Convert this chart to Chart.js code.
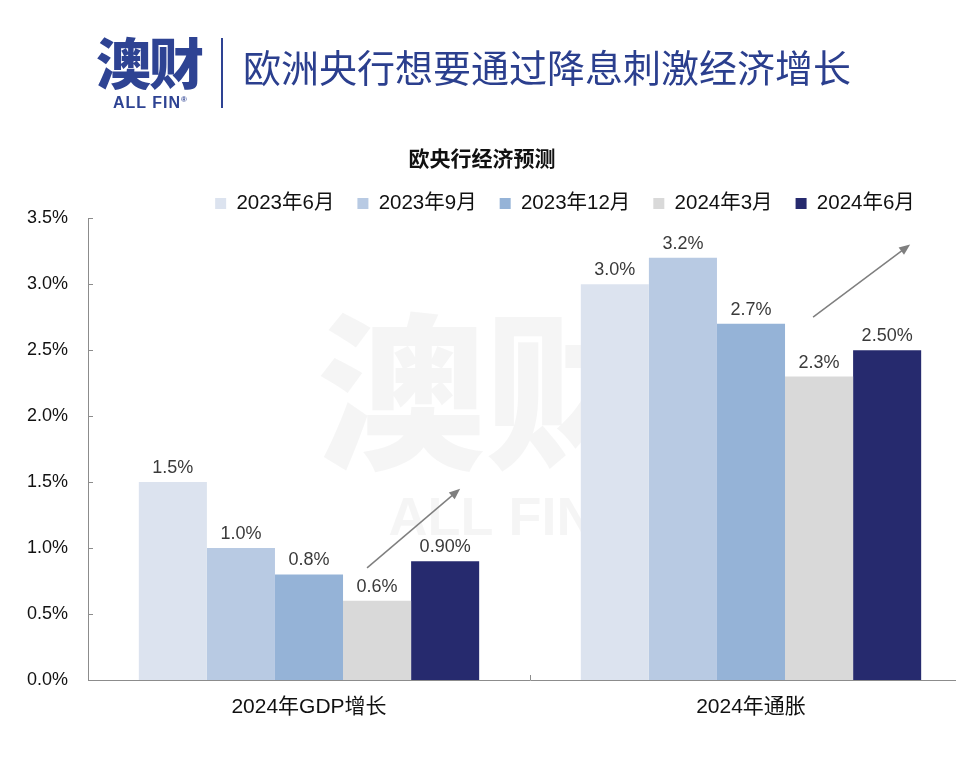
<!DOCTYPE html>
<html>
<head>
<meta charset="utf-8">
<script src="https://cdn.jsdelivr.net/npm/chart.js@4.4.0/dist/chart.umd.min.js"></script>
<style>
  html, body { margin: 0; padding: 0; background: #fff; overflow: hidden; }
  #wrap { position: relative; width: 956px; height: 776px; overflow: hidden; }
  #chart { position: absolute; left: 0; top: 0; }
  .logo { position: absolute; left: 96px; top: 20px; font: 900 55px "Noto Sans CJK SC"; color: #2e4393; letter-spacing: -2px; }
  .logo-en { position: absolute; left: 113px; top: 94px; font: bold 16px "Liberation Sans", sans-serif; color: #2e4393; letter-spacing: 1px; }
  .logo-en sup { font-size: 8px; }
  .vline { position: absolute; left: 221px; top: 38px; width: 2px; height: 70px; background: #2e4393; }
  .headline { position: absolute; left: 243px; top: 38px; font: 400 38px "Noto Sans CJK SC"; color: #2b3f8e; }
</style>
</head>
<body>
<div id="wrap">
  <canvas id="chart" width="990" height="776"></canvas>
  <div class="logo">澳财</div>
  <div class="logo-en">ALL FIN<sup>®</sup></div>
  <div class="vline"></div>
  <div class="headline">欧洲央行想要通过降息刺激经济增长</div>
</div>
<script>
const categories = ['2024年GDP增长', '2024年通胀'];
const seriesNames = ['2023年6月', '2023年9月', '2023年12月', '2024年3月', '2024年6月'];
const jun2023 = [1.5, 3.0];
const sep2023 = [1.0, 3.2];
const dec2023 = [0.8, 2.7];
const mar2024 = [0.6, 2.3];
const jun2024 = [0.9, 2.5];
const labelDigits = [1, 1, 1, 1, 2];
const colors = ['#dce3ef', '#b8cae3', '#95b3d7', '#d9d9d9', '#262a6e'];
const yTicks = [0, 0.5, 1.0, 1.5, 2.0, 2.5, 3.0, 3.5];

const latin = '"Liberation Sans", "Noto Sans CJK SC", sans-serif';
const allSeries = [jun2023, sep2023, dec2023, mar2024, jun2024];

const watermark = {
  id: 'watermark',
  beforeDatasetsDraw(chart) {
    const ctx = chart.ctx;
    ctx.save();
    ctx.fillStyle = 'rgba(190,190,190,0.16)';
    ctx.textAlign = 'center';
    ctx.textBaseline = 'middle';
    ctx.font = '900 168px "Noto Sans CJK SC"';
    ctx.fillText('澳财', 485, 392);
    ctx.font = 'bold 54px "Liberation Sans"';
    ctx.fillText('ALL FIN', 492, 520);
    ctx.font = 'bold 20px "Liberation Sans"';
    ctx.fillText('®', 640, 505);
    ctx.restore();
  }
};

// the original is cropped on the right: title and legend keep their own spots
const boxShift = {
  id: 'boxShift',
  beforeInit(chart) {
    const lg = chart.legend;
    const fit = lg.fit;
    lg.fit = function () { fit.call(this); this.height = 48; };
  },
  afterLayout(chart) {
    chart.legend.left = 168;
    chart.legend.right = 962;
    chart.titleBlock.left = 0;
    chart.titleBlock.right = 964;
  }
};

const extras = {
  id: 'extras',
  afterDatasetsDraw(chart) {
    const ctx = chart.ctx;
    const x = chart.scales.x, y = chart.scales.y;
    ctx.save();
    // value labels
    ctx.font = '18px ' + latin;
    ctx.fillStyle = '#3a3a3a';
    ctx.textAlign = 'center';
    ctx.textBaseline = 'bottom';
    chart.data.datasets.forEach((ds, i) => {
      chart.getDatasetMeta(i).data.forEach((bar, j) => {
        ctx.fillText(ds.data[j].toFixed(labelDigits[i]) + '%', bar.x, bar.y - 5);
      });
    });
    // inside tick marks
    ctx.strokeStyle = '#8c8c8c';
    ctx.lineWidth = 1;
    ctx.beginPath();
    yTicks.forEach(v => {
      const py = Math.round(y.getPixelForValue(v)) + 0.5;
      ctx.moveTo(x.left, py); ctx.lineTo(x.left + 5, py);
    });
    const mid = Math.round((x.getPixelForValue(0) + x.getPixelForValue(1)) / 2) + 0.5;
    ctx.moveTo(mid, y.bottom); ctx.lineTo(mid, y.bottom - 5);
    ctx.stroke();
    // trend arrows from gray bar to navy bar
    const gray = chart.getDatasetMeta(3).data;
    const navy = chart.getDatasetMeta(4).data;
    const arrowFrom = [[-10, 0.85], [-6, 2.75]];
    const arrowTo = [[15, 1.45], [23, 3.3]];
    ctx.strokeStyle = '#7f7f7f';
    ctx.fillStyle = '#7f7f7f';
    ctx.lineWidth = 1.5;
    for (let j = 0; j < 2; j++) {
      const x0 = gray[j].x + arrowFrom[j][0], y0 = y.getPixelForValue(arrowFrom[j][1]);
      const x1 = navy[j].x + arrowTo[j][0], y1 = y.getPixelForValue(arrowTo[j][1]);
      const a = Math.atan2(y1 - y0, x1 - x0);
      ctx.beginPath();
      ctx.moveTo(x0, y0); ctx.lineTo(x1 - 6 * Math.cos(a), y1 - 6 * Math.sin(a));
      ctx.stroke();
      ctx.beginPath();
      ctx.moveTo(x1, y1);
      ctx.lineTo(x1 - 11 * Math.cos(a) + 4.5 * Math.sin(a), y1 - 11 * Math.sin(a) - 4.5 * Math.cos(a));
      ctx.lineTo(x1 - 11 * Math.cos(a) - 4.5 * Math.sin(a), y1 - 11 * Math.sin(a) + 4.5 * Math.cos(a));
      ctx.closePath();
      ctx.fill();
    }
    ctx.restore();
  }
};

new Chart(document.getElementById('chart'), {
  type: 'bar',
  data: {
    labels: categories,
    datasets: seriesNames.map((name, i) => ({
      label: name,
      data: allSeries[i],
      backgroundColor: colors[i],
      borderWidth: 0,
      categoryPercentage: 0.77,
      barPercentage: 1.0
    }))
  },
  options: {
    responsive: false,
    animation: false,
    layout: { padding: { top: 145, left: 18, right: 18, bottom: 0 } },
    plugins: {
      title: {
        display: true,
        text: '欧央行经济预测',
        color: '#111',
        font: { family: '"Noto Sans CJK SC"', size: 21, weight: 'bold' },
        padding: { top: 0, bottom: 0 }
      },
      legend: {
        labels: {
          color: '#111',
          font: { family: latin, size: 20.5 },
          boxWidth: 11,
          boxHeight: 11,
          padding: 23
        }
      },
      tooltip: { enabled: false }
    },
    scales: {
      x: {
        grid: { display: false, drawTicks: false },
        border: { display: true, color: '#8c8c8c', width: 1 },
        ticks: { color: '#111', font: { family: latin, size: 21 }, padding: 15 },
        afterFit(s) { s.height = 96; }
      },
      y: {
        min: 0,
        max: 3.5,
        grid: { display: false, drawTicks: false },
        border: { display: true, color: '#8c8c8c', width: 1 },
        ticks: {
          stepSize: 0.5,
          color: '#111',
          font: { family: latin, size: 18 },
          padding: 20,
          callback: v => v.toFixed(1) + '%'
        },
        afterFit(s) { s.width = 70; }
      }
    }
  },
  plugins: [watermark, boxShift, extras]
});
</script>
</body>
</html>
